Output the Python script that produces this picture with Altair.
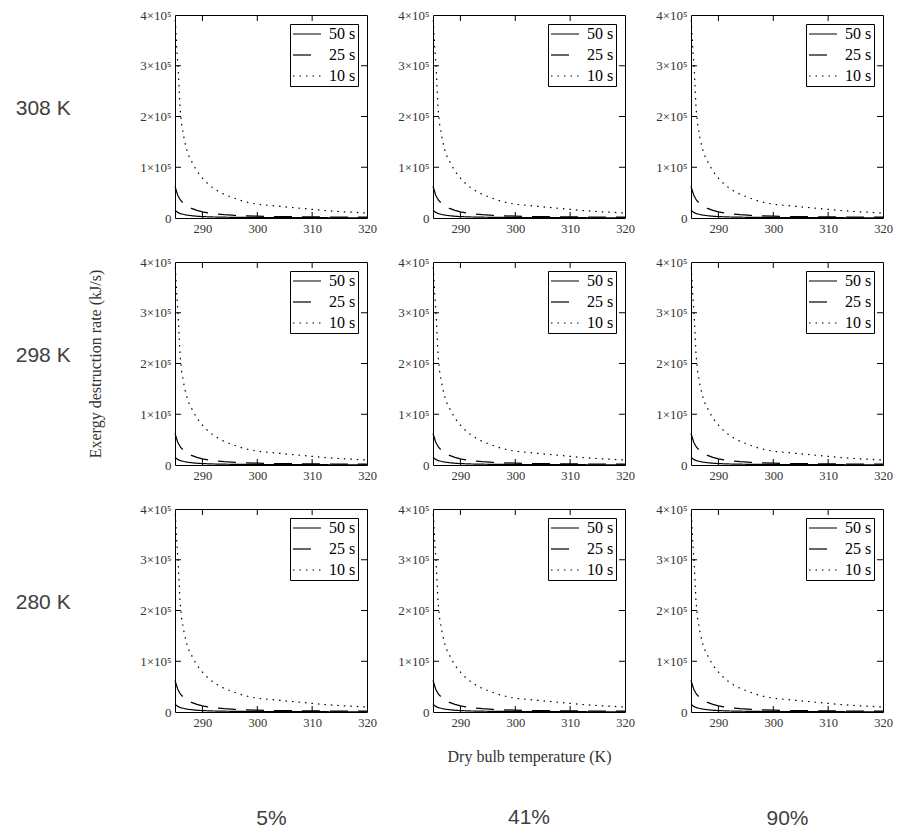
import altair as alt
import pandas as pd

# ---------------- data ----------------
SERIES = ["50 s", "25 s", "10 s"]
ROW_LABELS = ["308 K", "298 K", "280 K"]
COL_LABELS = ["5%", "41%", "90%"]
X_TICKS = [290, 300, 310, 320]
X_TICKS_INNER = [290, 300, 310]
Y_TICKS = [0, 100000, 200000, 300000, 400000]
Y_TICKS_INNER = [100000, 200000, 300000]
X_TITLE = "Dry bulb temperature (K)"
Y_TITLE = "Exergy destruction rate (kJ/s)"

T_10 = [285.05, 285.3, 285.6, 285.9, 286.2, 286.6, 287.0, 287.4, 288.0, 288.6,
        289.1, 289.7, 290.5, 291.2, 292.1, 293.1, 294.3, 295.4, 296.5, 297.5,
        298.6, 300.0, 302.0, 304.0, 306.0, 308.0, 310.0, 312.0, 314.0, 316.0,
        318.0, 319.8]
V_10 = [390000, 340000, 290000, 220000, 185000, 160000, 140000, 125000, 112000, 100000,
        91000, 82000, 73000, 65000, 58000, 51000, 45000, 41000, 36000, 33000,
        30000, 27000, 25000, 23000, 21000, 19000, 17000, 15000, 13500, 12000,
        11000, 10000]
T_25 = [285.0, 285.5, 286.0, 287.0, 288.0, 289.0, 290.0, 291.0, 292.0, 294.0,
        296.0, 298.0, 300.0, 303.0, 306.0, 310.0, 314.0, 318.0, 320.0]
V_25 = [62000, 45000, 35000, 24000, 19000, 15000, 12000, 10000, 8500, 6500,
        5000, 4200, 3600, 3000, 2600, 2200, 1900, 1700, 1600]
T_50 = [285.0, 285.5, 286.0, 287.0, 288.0, 289.0, 290.0, 292.0, 295.0, 300.0,
        305.0, 310.0, 315.0, 320.0]
V_50 = [15000, 11000, 8500, 6000, 4500, 3500, 2800, 2000, 1400, 1000,
        800, 600, 500, 400]

rows = []
for name, ts, vs in (("50 s", T_50, V_50), ("25 s", T_25, V_25), ("10 s", T_10, V_10)):
    for t, v in zip(ts, vs):
        rows.append({"series": name, "T": t, "V": v})
df = pd.DataFrame(rows)
xt_df = pd.DataFrame({"T": X_TICKS_INNER})
yt_df = pd.DataFrame({"V": Y_TICKS_INNER})

# ---------------- style ----------------
W, H = 192, 203
TICK = 6
SERIF = "Liberation Serif"
SANS = "Liberation Sans"
XSCALE = alt.Scale(domain=[285, 320], nice=False, zero=False)
YSCALE = alt.Scale(domain=[0, 400000], nice=False)
DASHES = [[1, 0], [18, 10], [1.5, 5]]


def panel(r, c):
    xkw = dict(values=X_TICKS, ticks=False, domain=False, grid=False,
               labelFont=SERIF, labelFontSize=12.5, labelColor="#333",
               labelPadding=4, labelFlush=False, title="")
    if r == 2:
        if c == 1:
            xkw.update(title=X_TITLE, titleFont=SERIF, titleFontSize=16,
                       titleFontWeight="normal", titleColor="#333", titlePadding=20)
        else:
            xkw.update(title=COL_LABELS[c], titleFont=SANS, titleFontSize=21,
                       titleFontWeight="normal", titleColor="#404040", titlePadding=79)
    ykw = dict(values=Y_TICKS, ticks=False, domain=False, grid=False,
               labelExpr="datum.value == 0 ? '0' : format(datum.value / 100000, 'd') + '\u00d710\u2075'",
               labelFont=SERIF, labelFontSize=13, labelColor="#333",
               labelPadding=4, labelFlush=False, title="")
    if r == 1 and c == 0:
        ykw.update(title=Y_TITLE, titleFont=SERIF, titleFontSize=16,
                   titleFontWeight="normal", titleColor="#333", titlePadding=36)
    xaxis = alt.Axis(**xkw)
    yaxis = alt.Axis(**ykw)

    lines = alt.Chart(df).mark_line(color="black", strokeWidth=1.2, strokeCap="butt").encode(
        x=alt.X("T:Q", scale=XSCALE, axis=xaxis),
        y=alt.Y("V:Q", scale=YSCALE, axis=yaxis),
        strokeDash=alt.StrokeDash(
            "series:N",
            scale=alt.Scale(domain=SERIES, range=DASHES),
            legend=alt.Legend(
                title=None, orient="top-right", offset=9,
                fillColor="white", strokeColor="black", padding=2,
                symbolType="M-1,0H3", symbolSize=196, symbolStrokeWidth=1.2,
                symbolStrokeColor="black", labelFont=SERIF, labelFontSize=16,
                labelColor="black", labelOffset=21, rowPadding=5,
                labelExpr="datum.label + '\u2002'",
            ),
        ),
        order=alt.Order("T:Q"),
    )
    bt = alt.Chart(xt_df).mark_rule(color="black").encode(
        x=alt.X("T:Q", scale=XSCALE, axis=xaxis), y=alt.value(H), y2=alt.value(H - TICK))
    tt = alt.Chart(xt_df).mark_rule(color="black").encode(
        x=alt.X("T:Q", scale=XSCALE, axis=xaxis), y=alt.value(0), y2=alt.value(TICK))
    lt = alt.Chart(yt_df).mark_rule(color="black").encode(
        y=alt.Y("V:Q", scale=YSCALE, axis=yaxis), x=alt.value(0), x2=alt.value(TICK))
    rt = alt.Chart(yt_df).mark_rule(color="black").encode(
        y=alt.Y("V:Q", scale=YSCALE, axis=yaxis), x=alt.value(W - TICK), x2=alt.value(W))

    layer = alt.layer(lines, bt, tt, lt, rt).properties(width=W, height=H)
    if c == 0:
        layer = layer.properties(title=alt.Title(
            ROW_LABELS[r], orient="left", angle=0, align="left", baseline="middle",
            anchor="middle", frame="group", offset=69 if r != 1 else 17,
            font=SANS, fontSize=21, fontWeight="normal", color="#404040", dy=-8))
    elif r == 2 and c == 1:
        layer = layer.properties(title=alt.Title(
            COL_LABELS[1], orient="bottom", anchor="middle", frame="group", offset=42,
            font=SANS, fontSize=21, fontWeight="normal", color="#404040"))
    return layer


panels = [panel(r, c) for r in range(3) for c in range(3)]

chart = alt.concat(
    *panels, columns=3, spacing={"row": 44, "column": 66}, bounds="flush", align="all"
).resolve_scale(strokeDash="independent").resolve_legend(strokeDash="independent").properties(
    padding={"left": 15, "top": 8, "right": 5, "bottom": 0}
).configure(background="white").configure_view(stroke="black", strokeWidth=1)

chart.save("out.html", embed_options={"renderer": "svg", "actions": False})
